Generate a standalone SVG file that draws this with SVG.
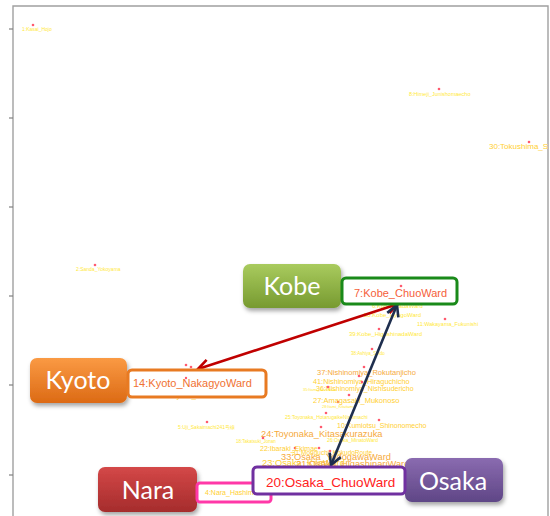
<svg xmlns="http://www.w3.org/2000/svg" width="550" height="516" viewBox="0 0 550 516">
  <style>
    .axis { stroke: #a0a0a0; stroke-width: 1.4; fill: none; }
    .tick { stroke: #808080; stroke-width: 1.2; }
    .pt { fill: #ff5a6e; }
    .lbl { font-family: "Liberation Sans", Arial, sans-serif; fill: #ffe93a; }
    .lbl-m { font-family: "Liberation Sans", Arial, sans-serif; fill: #ffcf33; }
    .lbl-l { font-family: "Liberation Sans", Arial, sans-serif; fill: #f6aa3c; }
    .city { font-family: Lato, "Open Sans", sans-serif; font-size: 25px; fill: #ffffff; text-anchor: middle; }
    .frame { fill: #ffffff; stroke-width: 3; }
    .tag { font-family: "Liberation Sans", Arial, sans-serif; }
    .link { fill: none; stroke-width: 2.6; }
  </style>
  <defs>
    <linearGradient id="gKobe" x1="0" y1="0" x2="0" y2="1">
      <stop offset="0" stop-color="#a9cb5e"/>
      <stop offset="1" stop-color="#779a30"/>
    </linearGradient>
    <linearGradient id="gKyoto" x1="0" y1="0" x2="0" y2="1">
      <stop offset="0" stop-color="#fa9a44"/>
      <stop offset="1" stop-color="#dc6a14"/>
    </linearGradient>
    <linearGradient id="gNara" x1="0" y1="0" x2="0" y2="1">
      <stop offset="0" stop-color="#d44848"/>
      <stop offset="1" stop-color="#a52c2c"/>
    </linearGradient>
    <linearGradient id="gOsaka" x1="0" y1="0" x2="0" y2="1">
      <stop offset="0" stop-color="#8a6bb0"/>
      <stop offset="1" stop-color="#5f4686"/>
    </linearGradient>
    <filter id="shadow" x="-20%" y="-20%" width="140%" height="150%">
      <feDropShadow dx="1.5" dy="3" stdDeviation="2" flood-color="#000" flood-opacity="0.35"/>
    </filter>
    <clipPath id="plotClip">
      <rect x="13" y="6" width="535" height="510"/>
    </clipPath>
    <marker id="headRed" markerUnits="userSpaceOnUse" markerWidth="16" markerHeight="16" viewBox="0 0 16 16" refX="13" refY="8" orient="auto-start-reverse">
      <path d="M2,2 L13,8 L2,14" fill="none" stroke="#c00000" stroke-width="2.6" stroke-linejoin="miter"/>
    </marker>
    <marker id="headNavy" markerUnits="userSpaceOnUse" markerWidth="16" markerHeight="16" viewBox="0 0 16 16" refX="13" refY="8" orient="auto-start-reverse">
      <path d="M2,2 L13,8 L2,14" fill="none" stroke="#1e2e4e" stroke-width="2.6" stroke-linejoin="miter"/>
    </marker>
  </defs>

  <rect width="550" height="516" fill="#ffffff"/>

  <!-- plot frame and y ticks -->
  <g id="axes">
    <path class="axis" d="M13,516 L13,6 L548,6 L548,516"/>
    <line class="tick" x1="9" y1="29" x2="13" y2="29"/>
    <line class="tick" x1="9" y1="118" x2="13" y2="118"/>
    <line class="tick" x1="9" y1="207" x2="13" y2="207"/>
    <line class="tick" x1="9" y1="296" x2="13" y2="296"/>
    <line class="tick" x1="9" y1="385" x2="13" y2="385"/>
    <line class="tick" x1="9" y1="475" x2="13" y2="475"/>
  </g>

  <!-- scattered station points with their labels -->
  <g id="points" clip-path="url(#plotClip)">
    <circle class="pt" cx="33" cy="25" r="1.3"/>
    <text class="lbl" x="22" y="31" font-size="5">1:Kasai_Hojo</text>
    <circle class="pt" cx="439" cy="89" r="1.3"/>
    <text class="lbl" x="409" y="96" font-size="5.5">8:Himeji_Junishomaecho</text>
    <circle class="pt" cx="529" cy="142" r="1.3"/>
    <text class="lbl-m" x="489" y="149" font-size="8">30:Tokushima_Saiwaicho</text>
    <circle class="pt" cx="95" cy="265" r="1.3"/>
    <text class="lbl" x="76" y="271" font-size="5">2:Sanda_Yokoyama</text>

    <circle class="pt" cx="401" cy="286" r="1.3"/>
    <text class="lbl" x="372" y="308" font-size="6">6:Kobe_NadaWard</text>
    <text class="lbl" x="364" y="317" font-size="6">50:Kobe_HyogoWard</text>
    <circle class="pt" cx="445" cy="319" r="1.3"/>
    <text class="lbl" x="417" y="326" font-size="5.5">11:Wakayama_Fukunishi</text>
    <circle class="pt" cx="379" cy="329" r="1.3"/>
    <text class="lbl" x="349" y="336" font-size="6">39:Kobe_HigashinadaWard</text>
    <circle class="pt" cx="372" cy="349" r="1.3"/>
    <text class="lbl" x="351" y="355" font-size="4.5">38:Ashiya_Seido</text>
    <circle class="pt" cx="364" cy="367" r="1.3"/>
    <text class="lbl-l" x="317" y="375" font-size="7.5">37:Nishinomiya_Rokutanjicho</text>
    <circle class="pt" cx="359" cy="376" r="1.3"/>
    <text class="lbl-m" x="313" y="384" font-size="7.3">41:Nishinomiya_Hiraguchicho</text>
    <circle class="pt" cx="362" cy="382" r="1.3"/>
    <text class="lbl-m" x="316" y="391" font-size="7">36:Nishinomiya_Nishisudericho</text>
    <text class="lbl" x="303" y="391" font-size="4">35:Itami_Suzuhara</text>
    <circle class="pt" cx="328" cy="387" r="1.3"/>
    <circle class="pt" cx="349" cy="395" r="1.3"/>
    <circle class="pt" cx="338" cy="402" r="1.3"/>
    <text class="lbl-m" x="313" y="403" font-size="7.5">27:Amagasaki_Mukonoso</text>
    <text class="lbl" x="322" y="408" font-size="4">28:Itami_Kitaitami</text>
    <circle class="pt" cx="326" cy="413" r="1.3"/>
    <text class="lbl" x="285" y="419" font-size="5">25:Toyonaka_HotarugaikeNishimachi</text>
    <circle class="pt" cx="379" cy="420" r="1.3"/>
    <text class="lbl-m" x="337" y="428" font-size="7">10:Kumiotsu_Shinonomecho</text>
    <circle class="pt" cx="321" cy="427" r="1.3"/>
    <text class="lbl-l" x="261" y="437" font-size="9.3">24:Toyonaka_Kitasakurazuka</text>
    <circle class="pt" cx="263" cy="438" r="1.3"/>
    <text class="lbl" x="236" y="443" font-size="4.5">18:Takatsuki_Jonan</text>
    <text class="lbl" x="327" y="442" font-size="5">26:Osaka_MinatoWard</text>
    <circle class="pt" cx="319" cy="448" r="1.3"/>
    <circle class="pt" cx="330" cy="451" r="1.3"/>
    <circle class="pt" cx="295" cy="448" r="1.3"/>
    <text class="lbl-m" x="260" y="451" font-size="7">22:Ibaraki_Ekimae</text>
    <text class="lbl-m" x="292" y="455" font-size="6.5">31:Moriguchi_KokudoRoute</text>
    <text class="lbl-l" x="281" y="460" font-size="9.3">33:Osaka_YodogawaWard</text>
    <text class="lbl-m" x="262" y="466" font-size="9.3">23:Osaka_KitaWard</text>
    <text class="lbl-l" x="296" y="467" font-size="9.3">21:Osaka_HigashinariWard</text>
    <text class="lbl-l" x="297" y="474" font-size="9.3">34:Osaka_SumiyoshiWard</text>

    <circle class="pt" cx="207" cy="422" r="1.3"/>
    <text class="lbl" x="178" y="429" font-size="5" font-family="'Liberation Sans', 'Noto Sans CJK JP', sans-serif">5:Uji_Sakaimachi241号線</text>

    <circle class="pt" cx="186" cy="365" r="1.3"/>
    <circle class="pt" cx="191" cy="367" r="1.3"/>
    <circle class="pt" cx="200" cy="390" r="1.3"/>
    <text class="lbl" x="153" y="374" font-size="6">15:Kyoto_ShimogyoWard</text>
    <text class="lbl-m" x="160" y="398" font-size="8">16:Kyoto_MinamiWard</text>

    <circle class="pt" cx="232" cy="484" r="1.1"/>
    <circle class="pt" cx="258" cy="500" r="1.1"/>
  </g>

  <!-- connectors between labelled stations -->
  <g id="connectors">
    <line class="link" x1="198" y1="369" x2="398" y2="304" stroke="#c00000" marker-start="url(#headRed)" marker-end="url(#headRed)"/>
    <line class="link" x1="397" y1="305" x2="331" y2="465" stroke="#1e2e4e" marker-start="url(#headNavy)" marker-end="url(#headNavy)"/>
  </g>

  <g id="node-kobe">
    <rect x="243" y="264" width="98" height="44" rx="7" fill="url(#gKobe)" filter="url(#shadow)"/>
    <text class="city" x="292" y="295">Kobe</text>
    <rect class="frame" x="342" y="278" width="115" height="26" rx="4" stroke="#1a8a1a"/>
    <circle class="pt" cx="401" cy="286" r="1.3"/>
    <text class="tag" x="354" y="297" font-size="11" fill="#f5603a">7:Kobe_ChuoWard</text>
  </g>

  <g id="node-kyoto">
    <rect x="30" y="358" width="97" height="45" rx="7" fill="url(#gKyoto)" filter="url(#shadow)"/>
    <text class="city" x="78" y="389">Kyoto</text>
    <rect class="frame" x="128" y="370" width="138" height="27" rx="4" stroke="#e87a22"/>
    <circle class="pt" cx="186" cy="378" r="1.2"/>
    <text class="tag" x="133" y="387" font-size="11" fill="#f07232">14:Kyoto_NakagyoWard</text>
  </g>

  <g id="node-nara">
    <rect x="98" y="467" width="99" height="45" rx="7" fill="url(#gNara)" filter="url(#shadow)"/>
    <text class="city" x="148" y="499">Nara</text>
    <rect class="frame" x="197" y="483" width="74" height="19" rx="3" stroke="#ff38a8" fill="none"/>
    <text class="lbl-m" x="205" y="495" font-size="7">4:Nara_Hashimoto</text>
  </g>

  <g id="node-osaka">
    <rect x="405" y="458" width="98" height="44" rx="7" fill="url(#gOsaka)" filter="url(#shadow)"/>
    <text class="city" x="453" y="490">Osaka</text>
    <rect class="frame" x="253" y="467" width="152" height="27" rx="4" stroke="#7030a0" fill="none"/>
    <text class="tag" x="266" y="487" font-size="13.5" fill="#ff2222">20:Osaka_ChuoWard</text>
  </g>
</svg>
